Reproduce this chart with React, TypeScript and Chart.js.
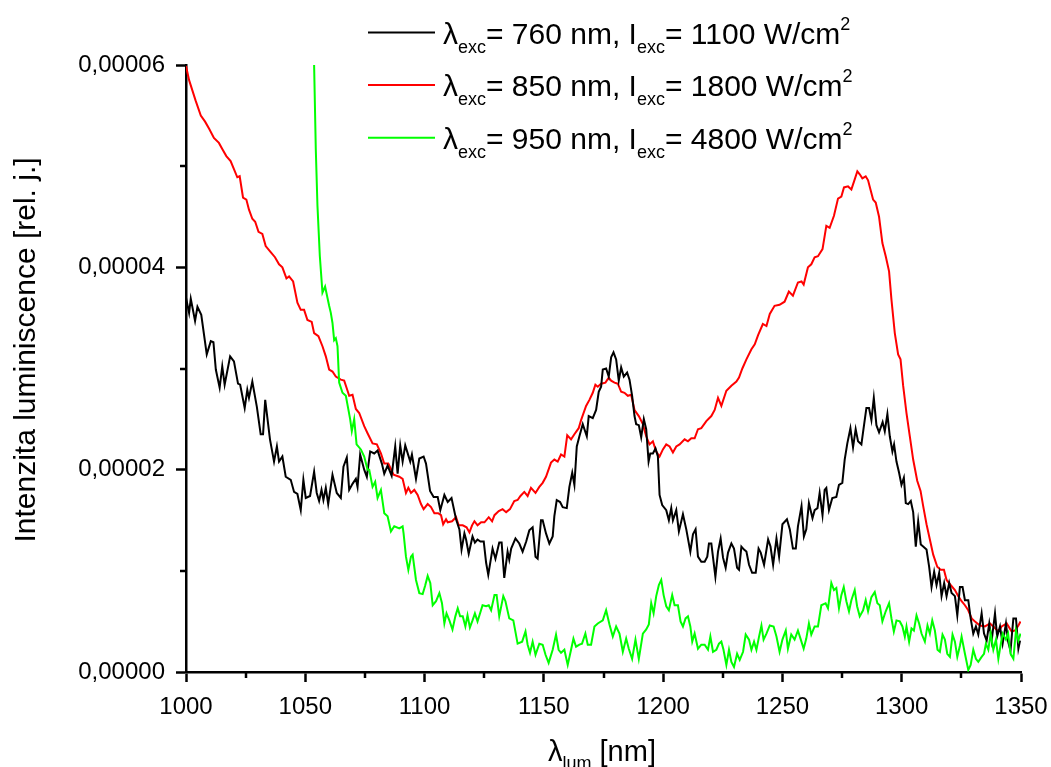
import React, { useEffect, useRef } from "react";
import { Chart, registerables } from "chart.js";

Chart.register(...registerables);

const FONT = '"Liberation Sans", Arial, Helvetica, sans-serif';

// x: luminescence wavelength [nm], y: intensity in units of 1e-5 rel. j.
const black760: [number, number][] = [
  [1000,3.70],[1001.3,3.55],[1002,3.69],[1003.8,3.47],[1004.8,3.61],[1006.4,3.53],[1008.7,3.14],[1010.4,3.27],[1011.5,3.26],[1012.5,2.99],
  [1014.1,2.81],[1015.2,3.02],[1016.2,2.84],[1018.5,3.12],[1020.1,3.07],[1021.8,2.85],[1022.7,2.84],[1024.6,2.61],[1025.7,2.79],[1026.4,2.71],
  [1027.8,2.87],[1029.7,2.62],[1031.3,2.35],[1032.3,2.35],[1033.2,2.69],[1035.2,2.30],[1036.9,2.08],[1038.1,2.23],[1039,2.08],[1040.4,2.13],
  [1041.8,1.93],[1043.9,1.90],[1045.3,1.78],[1046.7,1.76],[1048.1,1.60],[1049.2,1.90],[1050.2,1.72],[1052,1.74],[1053.7,1.98],[1054.8,1.77],
  [1055.8,1.69],[1056.8,1.80],[1057.6,1.70],[1058.6,1.82],[1059.6,1.66],[1061.4,1.95],[1063.2,1.77],[1064.9,1.72],[1066,2.03],[1067.4,2.12],
  [1068.4,1.80],[1069.8,1.86],[1071.2,1.91],[1071.9,1.83],[1073,2.15],[1074.7,2.00],[1075.8,1.93],[1077.2,2.18],[1078.9,2.16],[1080.3,2.19],
  [1082.1,2.06],[1083.1,1.96],[1084.5,2.04],[1086.2,1.94],[1087.7,2.23],[1088.7,1.96],[1089.8,2.24],[1090.8,2.08],[1091.9,2.24],[1094,2.08],
  [1094.7,2.15],[1096.4,1.91],[1097.8,2.11],[1099.6,2.13],[1100.6,2.06],[1102.3,1.79],[1103.8,1.73],[1105.5,1.73],[1106.6,1.60],[1108.3,1.75],
  [1109.7,1.68],[1111.3,1.72],[1113.2,1.51],[1114.6,1.41],[1115.5,1.21],[1116.7,1.37],[1117.4,1.31],[1118.5,1.17],[1120.1,1.34],[1121.1,1.28],
  [1122.2,1.31],[1123.4,1.29],[1124.8,1.29],[1125.8,1.08],[1126.7,0.96],[1128.5,1.22],[1129.7,1.12],[1131.3,1.28],[1132.3,1.28],[1133.4,0.93],
  [1134.8,1.19],[1135.5,1.11],[1136.3,1.22],[1138.1,1.32],[1139.7,1.27],[1141.1,1.19],[1142.6,1.29],[1143.9,1.40],[1145.3,1.43],[1146.5,1.14],
  [1147.4,1.12],[1148.8,1.50],[1149.5,1.50],[1150.9,1.37],[1152.3,1.27],[1153.7,1.34],[1154.4,1.54],[1155.4,1.70],[1156.8,1.68],[1157.9,1.63],
  [1159.6,1.62],[1160.7,1.83],[1161.9,1.97],[1162.8,1.85],[1163.8,2.23],[1164.9,2.33],[1166.3,2.45],[1168,2.33],[1168.8,2.53],[1170.5,2.51],
  [1171.9,2.59],[1173,2.77],[1174,2.82],[1174.7,2.99],[1176.1,3.00],[1177.2,2.92],[1178.2,3.11],[1179.2,3.16],[1180.3,3.09],[1181.4,2.88],
  [1182.4,3.01],[1183.5,2.92],[1184.9,2.96],[1185.9,2.89],[1187,2.73],[1188,2.53],[1188.7,2.45],[1189.8,2.44],[1190.8,2.32],[1191.9,2.50],
  [1192.9,2.40],[1193.9,2.08],[1194.6,2.16],[1195.7,2.16],[1196.8,2.21],[1197.8,2.13],[1198.5,1.75],[1199.6,1.65],[1201.3,1.60],[1202.4,1.50],
  [1203.4,1.62],[1204.1,1.50],[1205.5,1.60],[1206.6,1.39],[1208.3,1.56],[1209.7,1.41],[1211.4,1.19],[1212.5,1.36],[1213.6,1.41],[1214.6,1.14],
  [1216,1.09],[1217.4,1.09],[1218.5,1.14],[1219.2,1.27],[1220.2,1.27],[1221.9,0.94],[1223,1.19],[1224.1,1.32],[1225.1,1.13],[1226.2,1.03],
  [1227.2,1.18],[1228.6,1.27],[1229.7,1.22],[1231,1.03],[1231.8,1.01],[1232.8,1.24],[1233.9,1.21],[1234.9,1.19],[1236,1.06],[1237.3,0.98],
  [1238.8,0.98],[1240,1.22],[1240.9,1.18],[1242.3,1.06],[1244,1.31],[1245,1.24],[1246.1,1.06],[1247.5,1.32],[1248.6,1.14],[1250,1.46],
  [1251.9,1.51],[1253.1,1.41],[1254.4,1.22],[1255.6,1.22],[1256.5,1.44],[1258,1.64],[1259,1.34],[1260,1.41],[1261.1,1.67],[1262.6,1.52],
  [1263.5,1.60],[1264.7,1.62],[1265.6,1.77],[1266.8,1.55],[1267.7,1.80],[1268.4,1.82],[1269.5,1.60],[1270.9,1.72],[1272.6,1.73],[1273.7,1.85],
  [1275.1,1.87],[1276.1,2.10],[1277.2,2.26],[1278.5,2.41],[1279.6,2.22],[1280.7,2.40],[1281.7,2.28],[1283.1,2.25],[1283.8,2.37],[1285.2,2.61],
  [1286.3,2.61],[1287.3,2.49],[1288.3,2.71],[1289.4,2.44],[1290.5,2.37],[1292,2.47],[1292.9,2.38],[1294,2.55],[1295,2.33],[1296.1,2.18],
  [1296.8,2.25],[1297.8,2.08],[1298.9,1.97],[1299.9,1.85],[1300.9,1.92],[1301.7,1.67],[1302.7,1.66],[1303.8,1.69],[1304.8,1.58],[1305.9,1.24],
  [1306.9,1.49],[1308,1.26],[1309,1.24],[1310.4,1.21],[1311.5,1.04],[1312.5,0.84],[1313.6,0.99],[1314.6,0.86],[1315.7,0.98],[1316.7,0.75],
  [1317.8,0.88],[1318.8,0.75],[1319.9,0.88],[1320.9,0.78],[1322.3,0.75],[1323.3,0.56],[1324.4,0.84],[1325.5,0.84],[1326.5,0.71],[1327.9,0.71],
  [1328.9,0.53],[1330,0.38],[1331.1,0.45],[1332.1,0.37],[1333.5,0.58],[1334.5,0.38],[1335.6,0.31],[1336.7,0.48],[1337.7,0.31],[1339.1,0.58],
  [1340,0.35],[1341.2,0.45],[1342.3,0.28],[1343.7,0.48],[1344.6,0.30],[1345.6,0.21],[1346.8,0.53],[1347.9,0.53],[1348.9,0.23],[1349.6,0.31],
];

const red850: [number, number][] = [
  [1000,5.99],[1001.3,5.85],[1004,5.65],[1006.2,5.50],[1008,5.44],[1009.7,5.37],[1011.7,5.28],[1013.8,5.23],[1015.2,5.17],[1016.9,5.10],
  [1018.7,5.05],[1020.1,4.97],[1021.5,4.89],[1022.5,4.90],[1023.9,4.69],[1025.3,4.67],[1026.4,4.57],[1027.8,4.48],[1029,4.45],[1030.4,4.35],
  [1032,4.33],[1033.4,4.21],[1035.5,4.15],[1037.3,4.10],[1039,4.03],[1040.4,4.00],[1042.1,3.89],[1043.2,3.91],[1044.9,3.86],[1046.7,3.65],
  [1048.1,3.58],[1049.5,3.58],[1050.9,3.48],[1052.7,3.46],[1053.7,3.35],[1055.5,3.32],[1057.2,3.22],[1058.6,3.12],[1060,2.99],[1061.4,2.97],
  [1062.8,2.92],[1064.9,2.89],[1066.3,2.88],[1067.3,2.81],[1068.4,2.73],[1069.8,2.74],[1071.2,2.60],[1072.6,2.56],[1074.7,2.43],[1076.1,2.36],
  [1078.2,2.26],[1080,2.25],[1081.7,2.16],[1083.1,2.06],[1084.8,2.06],[1087,1.95],[1089.4,1.93],[1090.8,1.91],[1092.2,1.77],[1093.2,1.82],
  [1094.3,1.77],[1095.7,1.80],[1097.1,1.75],[1098.5,1.66],[1099.6,1.61],[1101.3,1.66],[1102.7,1.63],[1104.1,1.57],[1105.7,1.57],[1106.9,1.55],
  [1107.8,1.46],[1109,1.51],[1109.7,1.48],[1111.5,1.49],[1113.2,1.53],[1114.3,1.45],[1116,1.45],[1117.6,1.43],[1118.8,1.38],[1119.9,1.45],
  [1120.9,1.49],[1122.2,1.45],[1123.7,1.48],[1125.1,1.48],[1126.9,1.53],[1128.3,1.49],[1129.3,1.55],[1131.1,1.59],[1132.7,1.61],[1134.2,1.58],
  [1135.8,1.61],[1137.6,1.69],[1139,1.70],[1140.2,1.74],[1141.8,1.78],[1143.2,1.74],[1144.6,1.82],[1146.5,1.77],[1148.1,1.83],[1149.5,1.87],
  [1150.9,1.93],[1153,2.07],[1154.4,2.10],[1155.8,2.08],[1157.2,2.15],[1158.6,2.13],[1159.8,2.34],[1161.4,2.30],[1162.8,2.35],[1164.6,2.41],
  [1165.6,2.49],[1167.7,2.63],[1169.1,2.69],[1170.5,2.76],[1171.6,2.84],[1172.6,2.82],[1174,2.85],[1175.8,2.86],[1177.2,2.91],[1178.2,2.88],
  [1179.6,2.86],[1181,2.85],[1182.4,2.77],[1183.8,2.76],[1185.2,2.73],[1186.6,2.74],[1188,2.59],[1189.8,2.53],[1191.5,2.45],[1192.9,2.33],
  [1194.3,2.25],[1195.7,2.28],[1197.1,2.18],[1198.5,2.13],[1199.9,2.20],[1201.3,2.25],[1202.7,2.23],[1204.1,2.17],[1205.5,2.23],[1206.9,2.25],
  [1209,2.30],[1210.4,2.28],[1211.8,2.31],[1213.2,2.31],[1214.6,2.40],[1216,2.41],[1218.1,2.48],[1220.2,2.53],[1221.6,2.59],[1223,2.71],
  [1224.4,2.63],[1226.5,2.78],[1228.6,2.83],[1230.7,2.87],[1231.8,2.91],[1233.2,3.00],[1234.9,3.09],[1237,3.19],[1238.4,3.24],[1239.8,3.33],
  [1241.8,3.44],[1243.3,3.42],[1244.7,3.54],[1246.7,3.62],[1248.8,3.63],[1250.9,3.66],[1252.7,3.76],[1254.4,3.72],[1256.5,3.85],[1258,3.86],
  [1258.9,3.83],[1260.7,4.00],[1262.1,4.03],[1263.5,4.10],[1264.9,4.11],[1266.8,4.18],[1268.4,4.41],[1269.8,4.39],[1271.6,4.51],[1273.3,4.68],
  [1274.7,4.70],[1275.8,4.79],[1277.5,4.80],[1278.9,4.77],[1280.3,4.87],[1281.4,4.95],[1282.4,4.92],[1283.5,4.88],[1284.9,4.90],[1285.9,4.86],
  [1286.9,4.77],[1288,4.67],[1289.1,4.64],[1290.5,4.50],[1291.9,4.24],[1293.3,4.11],[1294.7,3.96],[1295.7,3.68],[1297.1,3.35],[1298.5,3.14],
  [1299.5,3.09],[1300.6,2.83],[1302,2.56],[1303.4,2.33],[1304.8,2.10],[1306.5,1.89],[1307.9,1.79],[1309,1.64],[1310.4,1.46],[1311.8,1.31],
  [1313.2,1.16],[1314.9,1.04],[1316.3,1.01],[1317.7,1.01],[1318.8,0.91],[1320.5,0.86],[1322.3,0.81],[1323.7,0.75],[1325.1,0.70],[1326.5,0.66],
  [1327.9,0.61],[1329.3,0.53],[1330.7,0.50],[1332.8,0.46],[1334.9,0.45],[1337,0.48],[1338.4,0.45],[1340.5,0.40],[1341.9,0.45],[1344,0.48],
  [1346.1,0.40],[1347.5,0.41],[1348.9,0.46],[1349.8,0.50],
];

const green950: [number, number][] = [
  [1052.8,7.50],[1053.7,6.00],[1054.4,5.17],[1055.1,4.61],[1056.1,4.11],[1057.2,3.75],[1058.3,3.81],[1060,3.62],[1060.7,3.55],[1061.4,3.45],
  [1062.1,3.28],[1062.8,3.30],[1063.5,3.22],[1064.2,2.86],[1065.6,2.76],[1067,2.73],[1067.7,2.64],[1068.8,2.50],[1069.5,2.38],[1070.5,2.50],
  [1071.5,2.25],[1073.3,2.20],[1074.7,2.13],[1076.1,2.00],[1076.8,2.00],[1078.2,1.83],[1079.3,1.88],[1080.3,1.72],[1081.7,1.80],[1083.1,1.57],
  [1084.5,1.54],[1085.9,1.39],[1087.3,1.44],[1089.4,1.42],[1090.8,1.44],[1091.2,1.37],[1092.2,1.14],[1093.2,1.01],[1094.3,1.14],[1095,1.16],
  [1096.4,0.91],[1097.8,0.78],[1099.2,0.77],[1100.2,0.85],[1101.3,0.95],[1102.4,0.88],[1103.4,0.66],[1104.8,0.70],[1106.2,0.78],[1107.3,0.68],
  [1108.3,0.48],[1109.2,0.58],[1110.4,0.51],[1111.7,0.42],[1112.9,0.55],[1113.9,0.63],[1114.9,0.55],[1116,0.55],[1117.1,0.45],[1118,0.56],
  [1119,0.44],[1120.1,0.51],[1121.1,0.58],[1122.2,0.50],[1123.4,0.59],[1124.3,0.66],[1125.8,0.65],[1126.9,0.66],[1127.9,0.61],[1129.3,0.76],
  [1130.2,0.76],[1131.3,0.55],[1133,0.75],[1133.9,0.70],[1135.5,0.53],[1137.2,0.51],[1139,0.28],[1140.9,0.30],[1142.3,0.40],[1143.2,0.27],
  [1144.2,0.19],[1145.3,0.30],[1146.5,0.17],[1148.1,0.28],[1149.5,0.27],[1150.7,0.17],[1152,0.09],[1153.7,0.22],[1155.1,0.37],[1156.2,0.22],
  [1157.2,0.19],[1158.6,0.22],[1160,0.07],[1161.4,0.22],[1162.4,0.33],[1163.5,0.25],[1164.9,0.27],[1166,0.28],[1167.4,0.38],[1168.4,0.27],
  [1169.8,0.27],[1171.2,0.45],[1172.6,0.48],[1174.7,0.51],[1176.1,0.61],[1177.5,0.47],[1178.9,0.35],[1180.3,0.45],[1181.7,0.38],[1183.1,0.20],
  [1184.5,0.33],[1185.6,0.23],[1187,0.13],[1188.4,0.32],[1189.8,0.13],[1191.5,0.38],[1192.9,0.42],[1194,0.47],[1195,0.68],[1196,0.58],
  [1197.1,0.75],[1198.2,0.86],[1199.2,0.91],[1200.2,0.76],[1201.3,0.65],[1202.4,0.61],[1203.8,0.76],[1204.8,0.66],[1206.2,0.66],[1207.3,0.50],
  [1208.3,0.45],[1209.4,0.53],[1210.4,0.55],[1211.4,0.45],[1212.2,0.30],[1213.2,0.38],[1214.6,0.23],[1216,0.27],[1217.4,0.27],[1218.8,0.22],
  [1219.8,0.35],[1220.9,0.20],[1222.3,0.22],[1223.4,0.28],[1224.4,0.30],[1225.3,0.22],[1226.5,0.07],[1227.6,0.22],[1228.6,0.10],[1229.7,0.05],
  [1231,0.18],[1232.1,0.12],[1233.5,0.20],[1234.6,0.37],[1236,0.32],[1237,0.22],[1238.1,0.30],[1239.1,0.22],[1240.2,0.35],[1241.2,0.46],
  [1242.1,0.32],[1243.3,0.38],[1244.7,0.46],[1246.3,0.45],[1247.5,0.35],[1248.8,0.20],[1250,0.32],[1251.4,0.41],[1252.3,0.23],[1253.7,0.37],
  [1255.1,0.32],[1256.5,0.41],[1257.7,0.32],[1258.9,0.23],[1260,0.33],[1261.1,0.48],[1262.1,0.37],[1263.5,0.45],[1264.9,0.45],[1266.3,0.66],
  [1268.1,0.68],[1269.1,0.63],[1270.5,0.88],[1271.6,0.81],[1272.6,0.83],[1273.7,0.63],[1274.7,0.76],[1275.7,0.84],[1276.8,0.70],[1277.9,0.60],
  [1278.9,0.71],[1280.3,0.81],[1281.3,0.65],[1282.4,0.55],[1283.8,0.61],[1284.9,0.71],[1285.9,0.60],[1287.3,0.74],[1288.7,0.79],[1289.8,0.68],
  [1290.8,0.66],[1291.9,0.50],[1293.3,0.60],[1294.7,0.68],[1295.7,0.53],[1296.7,0.40],[1297.8,0.51],[1299.2,0.50],[1300.3,0.45],[1301.3,0.35],
  [1302,0.45],[1303.1,0.30],[1304.1,0.43],[1305.1,0.41],[1306.2,0.56],[1307.3,0.48],[1308.3,0.38],[1309.7,0.30],[1310.8,0.46],[1311.8,0.38],
  [1312.8,0.51],[1313.9,0.41],[1315,0.22],[1316,0.20],[1317.1,0.37],[1318.1,0.32],[1319.1,0.18],[1320.2,0.15],[1321.3,0.37],[1322.3,0.30],
  [1323.3,0.15],[1324.4,0.26],[1325.1,0.35],[1326.5,0.18],[1327.9,0.02],[1328.9,0.07],[1330,0.22],[1331.1,0.13],[1332.1,0.10],[1333.5,0.15],
  [1334.5,0.18],[1335.3,0.28],[1336.3,0.22],[1337.3,0.38],[1338.4,0.22],[1339.5,0.32],[1340.5,0.13],[1341.2,0.23],[1342.3,0.38],[1343.7,0.32],
  [1344.6,0.38],[1345.6,0.18],[1346.8,0.13],[1347.9,0.41],[1348.9,0.31],[1349.8,0.38],
];

// Axis ranges and ticks
const X_MIN = 1000;
const X_MAX = 1350;
const X_MAJOR_STEP = 50;
const xMinorTicks = [1025, 1075, 1125, 1175, 1225, 1275, 1325];
const Y_MIN = 0;
const Y_MAX = 6; // ×1e-5
const Y_MAJOR_STEP = 2;
const yMinorTicks = [1, 3, 5];
const Y_UNIT = 1e-5;

// Texts
const Y_TITLE = "Intenzita luminiscence [rel. j.]";
const X_TITLE_MAIN = "λ";
const X_TITLE_SUB = "lum";
const X_TITLE_UNIT = " [nm]";

// Legend
const seriesColors = ["#000000", "#ff0000", "#00ff00"];
const legendExcWavelength = ["760", "850", "950"];
const legendExcIntensity = ["1100", "1800", "4800"];

type Seg = { text: string; size: number; dy: number };

function drawRich(ctx: CanvasRenderingContext2D, x: number, baseline: number, segs: Seg[]) {
  let cx = x;
  ctx.textAlign = "left";
  ctx.textBaseline = "alphabetic";
  for (const s of segs) {
    ctx.font = `${s.size}px ${FONT}`;
    ctx.fillText(s.text, cx, baseline + s.dy);
    cx += ctx.measureText(s.text).width;
  }
}

const decorPlugin = {
  id: "decor",
  afterDraw(chart: any) {
    const { ctx, chartArea, scales } = chart;
    const xs = scales.x;
    const ys = scales.y;
    ctx.save();
    // minor ticks
    ctx.strokeStyle = "#000";
    ctx.lineWidth = 2.5;
    for (const v of yMinorTicks) {
      const py = Math.round(ys.getPixelForValue(v));
      ctx.beginPath();
      ctx.moveTo(chartArea.left - 6, py);
      ctx.lineTo(chartArea.left, py);
      ctx.stroke();
    }
    for (const v of xMinorTicks) {
      const px = Math.round(xs.getPixelForValue(v));
      ctx.beginPath();
      ctx.moveTo(px, chartArea.bottom);
      ctx.lineTo(px, chartArea.bottom + 6);
      ctx.stroke();
    }
    ctx.fillStyle = "#000";
    // y title
    ctx.save();
    ctx.font = `30px ${FONT}`;
    ctx.textAlign = "center";
    ctx.textBaseline = "alphabetic";
    ctx.translate(35, 350);
    ctx.rotate(-Math.PI / 2);
    ctx.fillText(Y_TITLE, 0, 0);
    ctx.restore();
    // x title
    drawRich(ctx, 548, 761, [
      { text: X_TITLE_MAIN, size: 29, dy: 0 },
      { text: X_TITLE_SUB, size: 18, dy: 8 },
      { text: X_TITLE_UNIT, size: 29, dy: 0 },
    ]);
    // legend
    for (let i = 0; i < legendExcWavelength.length; i++) {
      const base = 43.5 + i * 52.6;
      ctx.strokeStyle = seriesColors[i];
      ctx.lineWidth = 2;
      ctx.beginPath();
      ctx.moveTo(368, base - 11);
      ctx.lineTo(435, base - 11);
      ctx.stroke();
      ctx.fillStyle = "#000";
      drawRich(ctx, 443, base, [
        { text: "λ", size: 30, dy: 0 },
        { text: "exc", size: 18, dy: 9 },
        { text: `= ${legendExcWavelength[i]} nm, I`, size: 30, dy: 0 },
        { text: "exc", size: 18, dy: 9 },
        { text: `= ${legendExcIntensity[i]} W/cm`, size: 30, dy: 0 },
        { text: "2", size: 18, dy: -14 },
      ]);
    }
    ctx.restore();
  },
};

function toPoints(arr: [number, number][]) {
  return arr.map(([x, y]) => ({ x, y }));
}

export default function App() {
  const ref = useRef<HTMLCanvasElement>(null);
  useEffect(() => {
    if (!ref.current) return;
    const chart = new Chart(ref.current, {
      type: "line",
      data: {
        datasets: [
          { label: "760", data: toPoints(black760), borderColor: seriesColors[0], borderWidth: 2, pointRadius: 0, tension: 0, order: 2 },
          { label: "850", data: toPoints(red850), borderColor: seriesColors[1], borderWidth: 2, pointRadius: 0, tension: 0, order: 3 },
          { label: "950", data: toPoints(green950), borderColor: seriesColors[2], borderWidth: 2, pointRadius: 0, tension: 0, order: 1 },
        ],
      },
      options: {
        responsive: false,
        animation: false,
        events: [],
        layout: { padding: { left: 0, top: 65, right: 30, bottom: 0 } },
        plugins: { legend: { display: false }, tooltip: { enabled: false }, title: { display: false } },
        scales: {
          x: {
            type: "linear",
            min: X_MIN,
            max: X_MAX,
            afterFit: (s: any) => { s.height = 95; s.paddingLeft = 0; s.paddingRight = 0; },
            ticks: {
              stepSize: X_MAJOR_STEP,
              autoSkip: false,
              maxRotation: 0,
              color: "#000",
              padding: 11,
              font: { family: FONT, size: 24 },
              callback: (v: any) => String(v),
            },
            grid: { display: true, drawOnChartArea: false, drawTicks: true, tickLength: 10, tickWidth: 2.5, tickColor: "#000" },
            border: { display: true, color: "#000", width: 2.5 },
          },
          y: {
            type: "linear",
            min: Y_MIN,
            max: Y_MAX,
            afterFit: (s: any) => { s.width = 186; s.paddingTop = 0; s.paddingBottom = 0; },
            ticks: {
              stepSize: Y_MAJOR_STEP,
              color: "#000",
              padding: 11,
              font: { family: FONT, size: 24 },
              callback: (v: any) => (Number(v) * Y_UNIT).toFixed(5).replace(".", ","),
            },
            grid: { display: true, drawOnChartArea: false, drawTicks: true, tickLength: 10, tickWidth: 2.5, tickColor: "#000" },
            border: { display: true, color: "#000", width: 2.5 },
          },
        },
      },
      plugins: [decorPlugin],
    } as any);
    return () => chart.destroy();
  }, []);
  return (
    <div style={{ position: "absolute", left: 0, top: 0, width: 1051, height: 767, background: "#fff", overflow: "hidden" }}>
      <canvas ref={ref} width={1051} height={767} style={{ display: "block", width: 1051, height: 767 }} />
    </div>
  );
}
